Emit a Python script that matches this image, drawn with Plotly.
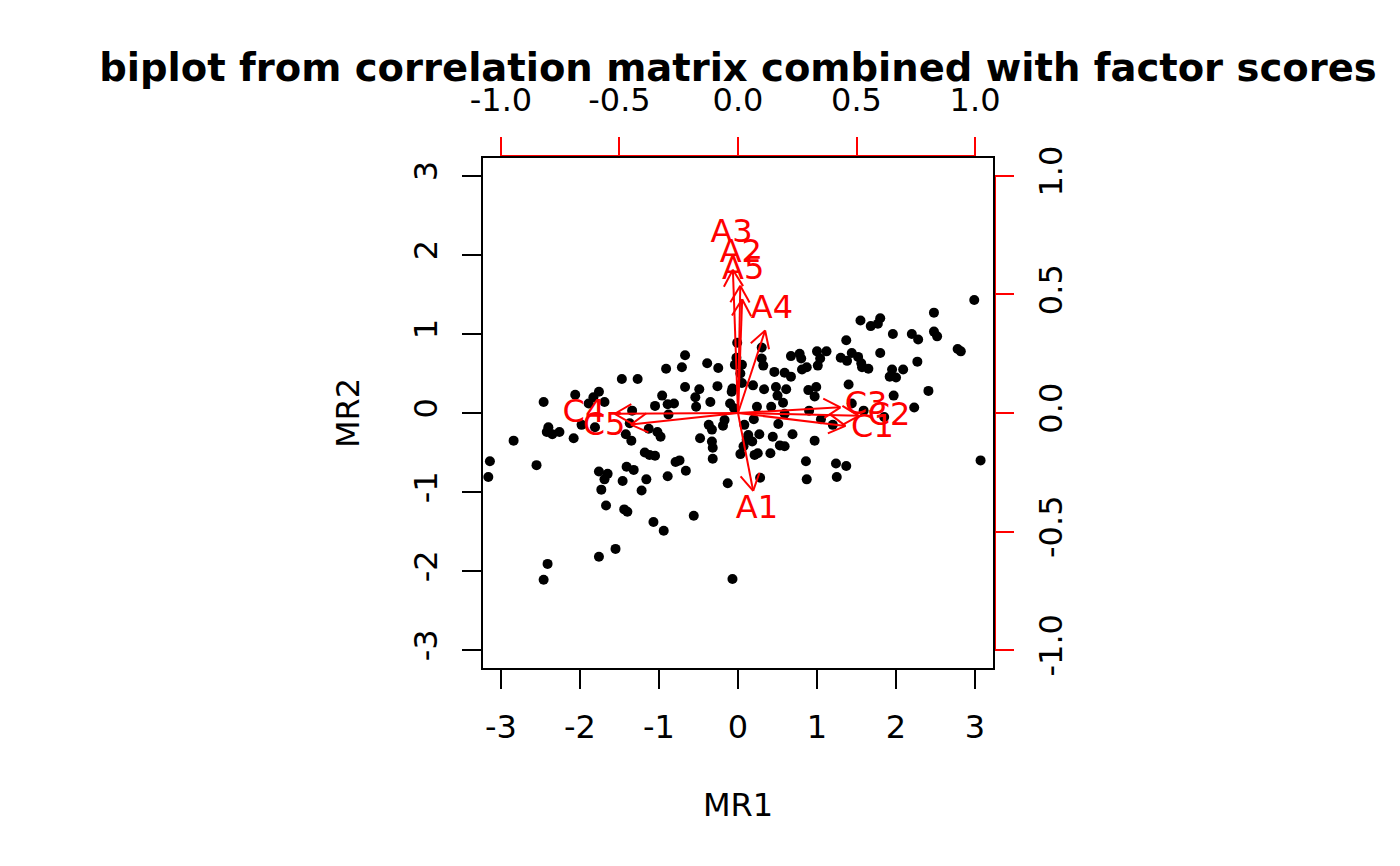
import numpy as np
import plotly.graph_objects as go

# factor scores (MR1, MR2)
mr1 = [-0.67, -0.91, -0.71, -0.39, -0.25, -0.01, -0.02, -0.04, -1.47, -1.27,
       -0.67, -0.49, -0.26, -0.07, -0.08, -0.96, -2.46, -2.06, -1.76, -1.83,
       -1.89, -1.69, -1.05, -0.89, -0.81, -0.54, -0.53, -0.35, -0.10, -1.34,
       -0.05,
       -2.40, -2.42, -2.35, -2.26, -2.84, -2.08, -3.14, -3.16, -2.55, -1.98,
       -1.81, -1.37, -1.42, -1.35, -1.13, -1.02, -0.98, -0.88, -0.37, -0.33,
       -0.19, -0.17, -0.48, -0.33, -0.32, -0.32, -1.18, -1.12, -1.05, -0.79,
       -0.74, -0.66, -0.89, -1.41, -1.32, -1.76, -1.65, -1.69, -1.46, -1.16,
       -1.22, -1.73, -1.67, -1.44, -1.40, -1.07, -0.94, -0.56, -0.13, -1.55,
       -1.76, -2.41, -2.46, -0.07,
       2.99, 2.48, 2.48, 2.52, 2.78, 2.82, 2.20, 2.28, 1.96, 1.80,
       1.77, 1.68, 1.55, 1.37, 1.80, 2.27, 2.41, 1.97, 1.30, 1.38,
       1.44, 1.52, 1.56, 1.65, 1.57, 1.95, 2.00, 2.09, 1.92, 0.67,
       0.78, 0.80, 1.00, 1.12, 1.04, 1.01, 0.81, 0.87, 0.46, 0.59,
       0.67, 0.30, 0.30, 0.32, 0.19, 0.33, 0.48, 0.61, 0.50, 0.57,
       0.89, 0.99, 0.97, 1.40, 0.24, 0.42, 0.05, 0.03, 0.90, 1.44,
       1.59, 2.23, 0.05,
       0.08, 0.20, 0.51, 0.13, 0.18, 0.07, 0.03, 0.27, 0.44, 0.53,
       0.59, 0.69, 0.41, 0.21, 0.25, 0.97, 1.20, 0.86, 1.24, 1.37,
       1.25, 0.87, 0.28, 3.07, 0.59, 1.05, 1.85, 0.11]
mr2 = [0.73, 0.56, 0.58, 0.63, 0.57, 0.89, 0.70, 0.61, 0.43, 0.43,
       0.33, 0.30, 0.34, 0.31, 0.27, 0.22, 0.14, 0.23, 0.27, 0.20,
       0.12, 0.14, 0.09, 0.11, 0.12, 0.20, 0.08, 0.14, 0.12, 0.03,
       0.06,
       -0.18, -0.24, -0.27, -0.24, -0.35, -0.32, -0.61, -0.81, -0.66, -0.15,
       -0.18, -0.13, -0.27, -0.35, -0.20, -0.24, -0.30, -0.02, -0.15, -0.21,
       -0.16, -0.09, -0.32, -0.36, -0.44, -0.58, -0.50, -0.53, -0.54, -0.62,
       -0.60, -0.73, -0.80, -0.68, -0.72, -0.74, -0.77, -0.84, -0.86, -0.84,
       -0.98, -0.97, -1.17, -1.22, -1.25, -1.38, -1.49, -1.30, -0.89, -1.72,
       -1.82, -1.91, -2.11, -2.10,
       1.43, 1.27, 1.03, 0.97, 0.81, 0.78, 1.00, 0.93, 1.00, 1.20,
       1.13, 1.10, 1.17, 0.92, 0.76, 0.65, 0.28, 0.22, 0.70, 0.66,
       0.76, 0.71, 0.63, 0.56, 0.58, 0.55, 0.45, 0.55, 0.46, 0.72,
       0.75, 0.69, 0.78, 0.78, 0.69, 0.60, 0.55, 0.58, 0.52, 0.51,
       0.46, 0.83, 0.69, 0.60, 0.35, 0.30, 0.33, 0.30, 0.22, 0.13,
       0.29, 0.33, 0.21, 0.36, 0.08, 0.08, 0.61, 0.50, 0.03, 0.12,
       0.03, 0.07, 0.38,
       -0.15, -0.08, -0.14, -0.28, -0.36, -0.42, -0.52, -0.27, -0.30, -0.41,
       -0.42, -0.27, -0.51, -0.53, -0.51, -0.35, -0.15, -0.61, -0.64, -0.67,
       -0.81, -0.84, -0.82, -0.60, -0.01, -0.08, -0.05, -0.34]

# loadings of the items on MR1, MR2
items = ["A1", "A2", "A3", "A4", "A5", "C1", "C2", "C3", "C4", "C5"]
load1 = [0.080, 0.012, -0.027, 0.143, 0.022, 0.567, 0.637, 0.540, -0.650, -0.565]
load2 = [-0.411, 0.671, 0.755, 0.435, 0.600, -0.068, -0.015, 0.030, -0.004, -0.061]

score_ticks = [-3, -2, -1, 0, 1, 2, 3]
score_labels = ["-3", "-2", "-1", "0", "1", "2", "3"]
load_ticks = [-1.0, -0.5, 0.0, 0.5, 1.0]
load_labels = ["-1.0", "-0.5", "0.0", "0.5", "1.0"]

FONT = "DejaVu Sans"
RED = "#ff0000"

# arrows drawn to 0.8 of the loading, open heads like R's arrows()
L1 = np.array(load1) * 0.8
L2 = np.array(load2) * 0.8
head = 0.081
ax_x, ax_y = [], []
for x, y in zip(L1, L2):
    th = np.arctan2(y, x)
    ax_x += [0, x, None]
    ax_y += [0, y, None]
    for d in (np.pi / 6, -np.pi / 6):
        ax_x += [x - head * np.cos(th + d), x, None]
        ax_y += [y - head * np.sin(th + d), y, None]

fig = go.Figure()
fig.add_trace(go.Scatter(x=mr1, y=mr2, mode="markers",
                         marker=dict(color="black", size=10),
                         showlegend=False, hoverinfo="skip"))
fig.add_trace(go.Scatter(x=ax_x, y=ax_y, mode="lines", xaxis="x2", yaxis="y2",
                         line=dict(color=RED, width=2),
                         showlegend=False, hoverinfo="skip"))
fig.add_trace(go.Scatter(x=load1, y=load2, mode="text", text=items,
                         xaxis="x2", yaxis="y2",
                         textfont=dict(color=RED, size=32, family=FONT),
                         showlegend=False, hoverinfo="skip"))

tick_font = dict(family=FONT, size=32, color="black")
common = dict(showgrid=False, zeroline=False, ticks="outside", ticklen=19,
              tickwidth=2, tickfont=tick_font, showline=False)

# the page adds an 8px body margin, so the margins are shifted by that
fig.update_layout(
    width=1400, height=866,
    margin=dict(l=474, r=414, t=149, b=205),
    paper_bgcolor="white", plot_bgcolor="white",
    title=dict(text="<b>biplot from correlation matrix combined with factor scores</b>",
               x=0.5, xref="paper", xanchor="center",
               y=1 - 60 / 866, yref="container", yanchor="middle",
               font=dict(family=FONT, size=38.5, color="black")),
    xaxis=dict(range=[-3.24, 3.24], tickvals=score_ticks, ticktext=score_labels,
               tickcolor="black", ticklabelstandoff=11, **common),
    yaxis=dict(range=[-3.24, 3.24], tickvals=score_ticks, ticktext=score_labels,
               tickcolor="black", tickangle=-90, ticklabelstandoff=12, **common),
    xaxis2=dict(range=[-1.08, 1.08], overlaying="x", side="top", anchor="y",
                tickvals=load_ticks, ticktext=load_labels, tickcolor=RED,
                ticklabelstandoff=13, **common),
    yaxis2=dict(range=[-1.08, 1.08], overlaying="y", side="right", anchor="x",
                tickvals=load_ticks, ticktext=load_labels, tickcolor=RED,
                tickangle=-90, ticklabelstandoff=10, **common),
    annotations=[
        dict(text="MR1", x=0.5, y=0, xref="paper", yref="paper",
             yshift=-136, showarrow=False, yanchor="middle",
             font=dict(family=FONT, size=32, color="black")),
        dict(text="MR2", x=0, y=0.5, xref="paper", yref="paper",
             xshift=-134, showarrow=False, textangle=-90, xanchor="center",
             font=dict(family=FONT, size=32, color="black")),
    ],
    shapes=[
        # red axis lines of the loading axes, peeking just outside the box
        dict(type="line", xref="x2", yref="paper", x0=-1, x1=1,
             ysizemode="pixel", yanchor=1, y0=1, y1=1,
             line=dict(color=RED, width=2)),
        dict(type="line", xref="paper", yref="y2", y0=-1, y1=1,
             xsizemode="pixel", xanchor=1, x0=1, x1=1,
             line=dict(color=RED, width=2)),
        dict(type="rect", xref="paper", yref="paper", x0=0, x1=1, y0=0, y1=1,
             line=dict(color="black", width=2)),
    ],
)

fig.write_html("out.html")
